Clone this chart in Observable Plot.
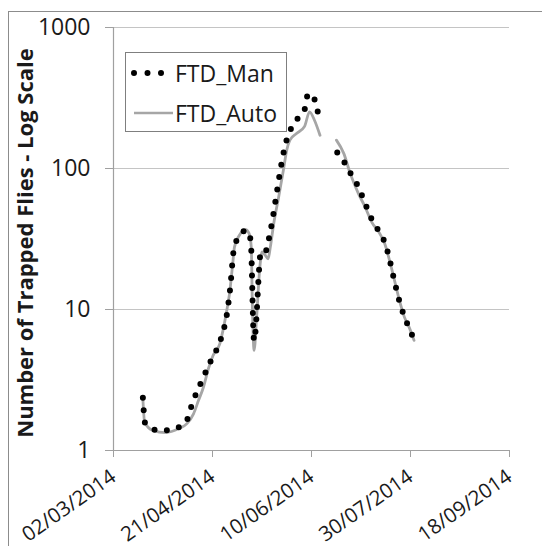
<!DOCTYPE html>
<html>
<head>
<meta charset="utf-8">
<script src="https://cdn.jsdelivr.net/npm/d3@7"></script>
<script src="https://cdn.jsdelivr.net/npm/@observablehq/plot@0.6"></script>
<style>
  html, body { margin: 0; padding: 0; background: #fff; overflow: hidden; }
  #wrap { position: relative; width: 542px; height: 546px; overflow: hidden; font-family: "Open Sans", sans-serif; }
  #frame { position: absolute; left: 8px; top: 11px; width: 700px; height: 700px; border-left: 1.5px solid #8c8c8c; border-top: 1.5px solid #8c8c8c; }
  #chart { position: absolute; left: 0; top: 0; }
  #legend { position: absolute; left: 125px; top: 52px; width: 162px; height: 80px; box-sizing: border-box; border: 1.3px solid #7f7f7f; background: #fff; }
  .row { position: absolute; left: 0; height: 30px; }
  .row svg { position: absolute; left: 5px; top: 0; }
  .row span { position: absolute; left: 49px; top: 0; font-size: 23px; line-height: 30px; color: #1a1a1a; white-space: nowrap; }
</style>
</head>
<body>
<div id="wrap">
  <div id="frame"></div>
  <div id="chart"></div>
  <div id="legend">
    <div class="row" style="top:5px">
      <svg width="45" height="30"><line x1="3" y1="15" x2="40" y2="15" stroke="#000" stroke-width="6" stroke-linecap="round" stroke-dasharray="0 13.5"/></svg>
      <span id="lgMan"></span>
    </div>
    <div class="row" style="top:45px">
      <svg width="45" height="30"><line x1="3" y1="15" x2="42" y2="15" stroke="#a6a6a6" stroke-width="2.6"/></svg>
      <span id="lgAuto"></span>
    </div>
  </div>
</div>
<script>
// ---- data ----
const seriesNames = ["FTD_Man", "FTD_Auto"];

const manDates = [
  "2014-03-16T20", "2014-03-18T00", "2014-03-23T12", "2014-03-29T05", "2014-04-04T00",
  "2014-04-08T12", "2014-04-10T07", "2014-04-14T22", "2014-04-20T05", "2014-04-25T10",
  "2014-04-28T07", "2014-04-29T22", "2014-05-01T17", "2014-05-03T17", "2014-05-08T05",
  "2014-05-10T07", "2014-05-12T00", "2014-05-15T14", "2014-05-18T05", "2014-05-19T12",
  "2014-05-28T12", "2014-05-30T22", "2014-06-03T10", "2014-06-07T00", "2014-06-08T00",
  "2014-06-10T17", "2014-06-12T07", "2014-06-14T07", "2014-06-18T00",
  "2014-06-23T00", "2014-06-26T17", "2014-06-29T14", "2014-07-03T02", "2014-07-07T22",
  "2014-07-10T10", "2014-07-13T14", "2014-07-16T14", "2014-07-18T14", "2014-07-21T10",
  "2014-07-24T10", "2014-07-28T12", "2014-07-31T07"
];
const manValues = [
  2.37, 1.56, 1.40, 1.39, 1.46,
  1.69, 2.05, 2.97, 4.35, 6.3,
  9.3, 14.1, 26.3, 31.8, 36.4,
  30.9, 6.0, 26.3, 26.3, 31.8,
  160, 195, 230, 273, 331,
  336, 276, 230, null,
  130, 110, 93, 77, 52.8,
  43.6, 36.8, 30.9, 25.3, 17.0,
  11.4, 7.84, 6.37
];

const autoDates = [
  "2014-03-16T20", "2014-03-17T17", "2014-03-21T19", "2014-03-28T10", "2014-04-04T00",
  "2014-04-08T02", "2014-04-11T10", "2014-04-13T22", "2014-04-16T10", "2014-04-18T22",
  "2014-04-21T07", "2014-04-24T17", "2014-04-26T07", "2014-04-27T22", "2014-04-29T14",
  "2014-05-01T05", "2014-05-02T02", "2014-05-04T14", "2014-05-07T19", "2014-05-09T12",
  "2014-05-10T14", "2014-05-11T02", "2014-05-12T00", "2014-05-13T07", "2014-05-14T22",
  "2014-05-16T02", "2014-05-17T17", "2014-05-19T02", "2014-05-20T05", "2014-05-21T22",
  "2014-05-24T10", "2014-05-26T19", "2014-05-28T12", "2014-05-30T02", "2014-06-02T10",
  "2014-06-06T12", "2014-06-09T00", "2014-06-11T12", "2014-06-14T07", "2014-06-18T00",
  "2014-06-22T14", "2014-06-26T07", "2014-06-29T14", "2014-07-03T17", "2014-07-07T02",
  "2014-07-10T10", "2014-07-14T12", "2014-07-17T00", "2014-07-19T10", "2014-07-21T22",
  "2014-07-24T10", "2014-07-26T22", "2014-07-29T07", "2014-07-31T19"
];
const autoValues = [
  2.33, 1.59, 1.39, 1.34, 1.43,
  1.55, 1.82, 2.26, 2.81, 3.80,
  4.72, 5.72, 7.11, 9.34, 12.9,
  21.1, 27.7, 33.6, 36.8, 34.5,
  27.7, 11.6, 5.13, 8.83, 20.0,
  25.6, 24.2, 22.9, 27.7, 40.6,
  62.8, 97.1, 135, 159, 177,
  199, 252, 220, 172, null,
  159, 128, 92, 66.4, 53.3,
  41.7, 34.5, 29.3, 22.3, 16.1,
  11.6, 8.83, 7.50, 6.04
];

const xTickLabels = ["02/03/2014", "21/04/2014", "10/06/2014", "30/07/2014", "18/09/2014"];
const yTickValues = [1, 10, 100, 1000];
const yTitle = "Number of Trapped Flies - Log Scale";

// ---- build ----
const parseDMY = d3.utcParse("%d/%m/%Y");
const parseISO = s => new Date(s + ":00:00Z");
const xTicks = xTickLabels.map(parseDMY);
const fmt = d3.utcFormat("%d/%m/%Y");

const man = manDates.map((d, i) => ({date: parseISO(d), value: manValues[i]}));
const auto = autoDates.map((d, i) => ({date: parseISO(d), value: autoValues[i]}));

document.getElementById("lgMan").textContent = seriesNames[0];
document.getElementById("lgAuto").textContent = seriesNames[1];

const chart = Plot.plot({
  width: 542,
  height: 546,
  marginLeft: 113,
  marginRight: 33,
  marginTop: 27,
  marginBottom: 96,
  style: {fontFamily: "'Open Sans', sans-serif", color: "#1a1a1a", background: "transparent"},
  x: {type: "utc", domain: [xTicks[0], xTicks[xTicks.length - 1]]},
  y: {type: "log", domain: [1, 1000]},
  marks: [
    Plot.gridY(yTickValues.slice(1), {stroke: "#c4c4c4", strokeOpacity: 1, strokeWidth: 1.2}),
    Plot.ruleX([xTicks[0]], {stroke: "#a0a0a0", strokeWidth: 1.2}),
    Plot.ruleY([1], {stroke: "#a0a0a0", strokeWidth: 1.2}),
    Plot.axisY({ticks: yTickValues, tickFormat: d => String(d), tickSize: 8, tickPadding: 15,
      fontSize: 23, stroke: "#a0a0a0", label: null}),
    Plot.axisX({ticks: xTicks, tickFormat: fmt, tickSize: 7, tickPadding: 17, tickRotate: -35,
      fontSize: 20.5, stroke: "#a0a0a0", label: null}),
    Plot.line(auto, {x: "date", y: "value", stroke: "#a6a6a6", strokeWidth: 2.8, curve: "monotone-x"}),
    Plot.line(man, {x: "date", y: "value", stroke: "#000", strokeWidth: 6, strokeLinecap: "round",
      strokeDasharray: "0 12.4", curve: "monotone-x"}),
    Plot.text([yTitle], {frameAnchor: "left", textAnchor: "middle", rotate: -90, dx: -88, dy: 4,
      fontSize: 22, fontWeight: "bold", fill: "#1a1a1a"})
  ]
});
document.getElementById("chart").appendChild(chart);
</script>
</body>
</html>
